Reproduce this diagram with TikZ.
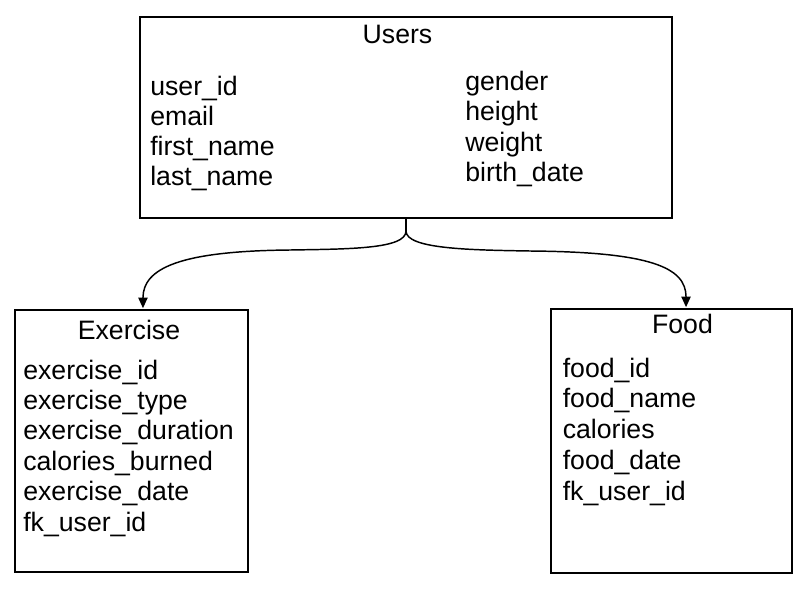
\documentclass[tikz,border=0pt]{standalone}
\usepackage{fontspec}
\setmainfont{Liberation Sans}
\usetikzlibrary{arrows.meta}

\tikzset{
  table/.style={draw, line width=1.5pt, inner sep=0pt},
  title/.style={anchor=base, inner sep=0pt},
  attr/.style={anchor=base west, inner sep=0pt},
  link/.style={line width=1.1pt},
  linkarrow/.style={link, -{Triangle[length=8pt,width=7pt]}}
}

\begin{document}
\begin{tikzpicture}[x=0.75pt,y=-0.75pt,font=\fontsize{20}{23}\selectfont]
    \useasboundingbox (0,0) rectangle (800,600);

    % Draw tables
    \node[table, minimum width=399pt, minimum height=150.75pt] (users) at (406,117.5) {};
    \node[table, minimum width=174.75pt, minimum height=196.5pt] (exercise) at (131.5,441) {};
    \node[table, minimum width=180.75pt, minimum height=198pt] (food) at (671.5,441) {};

    % Add titles
    \node[title] (usersTitle) at (397.5,43) {Users};
    \node[title] (exerciseTitle) at (129,339) {Exercise};
    \node[title] (foodTitle) at (682.5,333) {Food};

    % Add attributes
    \foreach \attr [count=\i from 0] in {user\_id, email, first\_name, last\_name}
        \node[attr] (usersL\i) at (150,{95.5+30*\i}) {\attr};
    \foreach \attr [count=\i from 0] in {gender, height, weight, birth\_date}
        \node[attr] (usersR\i) at (465,{90+30.5*\i}) {\attr};
    \foreach \attr [count=\i from 0] in {exercise\_id, exercise\_type, exercise\_duration, calories\_burned, exercise\_date, fk\_user\_id}
        \node[attr] (exercise\i) at (23,{379+30.4*\i}) {\attr};
    \foreach \attr [count=\i from 0] in {food\_id, food\_name, calories, food\_date, fk\_user\_id}
        \node[attr] (food\i) at (562.5,{377+30.8*\i}) {\attr};

    % Draw links
    \coordinate (split) at ([yshift=-9pt]users.south);
    \draw[link] (users.south) -- (split);
    \draw[linkarrow] (split) .. controls +(0,18) and +(60,-1) .. (290,250)
        .. controls +(-110,1) and +(0,-40) .. ([xshift=8.6pt,yshift=0.6pt]exercise.north);
    \draw[linkarrow] (split) .. controls +(0,18) and +(-60,-1) .. (530,251)
        .. controls +(120,1) and +(0,-40) .. ([xshift=10.9pt,yshift=0.6pt]food.north);
\end{tikzpicture}
\end{document}
